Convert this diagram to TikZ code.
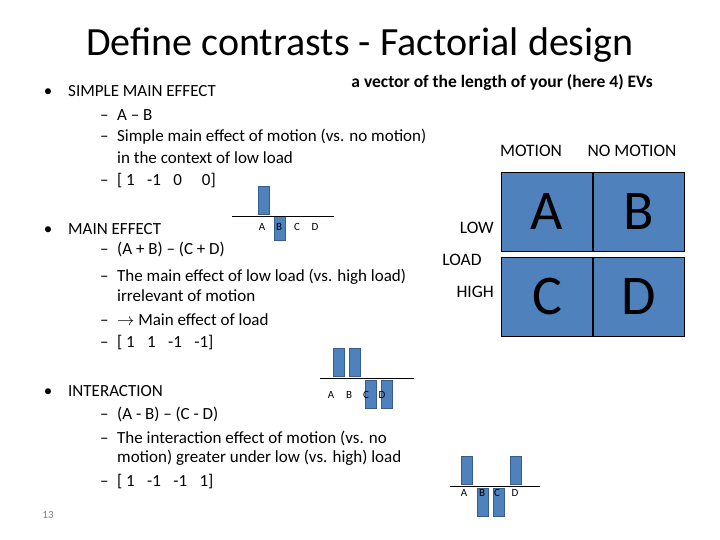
\documentclass[tikz,border=0pt]{standalone}
\usepackage{fontspec}
\setmainfont{Carlito}
\definecolor{bl}{HTML}{4F81BD}
\definecolor{bd}{HTML}{385D8A}
\begin{document}
\begin{tikzpicture}[x=1pt,y=-1pt,
  t/.style={anchor=west,inner sep=0pt,font=\fontsize{17}{20}\selectfont},
  bar/.style={fill=bl,draw=bd,line width=0.8pt},
  sl/.style={inner sep=0pt,font=\fontsize{11}{13}\selectfont},
  ax/.style={line width=0.8pt},
  cell/.style={fill=bl,draw=black,line width=0.6pt,minimum width=91pt,minimum height=79pt,inner sep=0pt,font=\fontsize{56}{60}\selectfont},
  gl/.style={inner sep=0pt,font=\fontsize{17.5}{20}\selectfont}]
\useasboundingbox (0,0) rectangle (720,540);
\node[inner sep=0pt,font=\fontsize{40}{46}\selectfont] (title) at (360,45) {Define contrasts - Factorial design};
\node[anchor=east,inner sep=0pt,font=\bfseries\fontsize{17.5}{20}\selectfont] (vec) at (653,82) {a vector of the length of your (here 4) EVs};
% bullets
\foreach \y/\n in {93/b1,231/b2,393/b3} \node[inner sep=0pt,font=\fontsize{17}{20}\selectfont] (\n) at (48,\y) {\textbullet};
\node[t] (s1) at (68,91) {SIMPLE MAIN EFFECT};
\node[t] (s2) at (100,115) {–\enspace A – B};
\node[t] (s3) at (100,137) {–\enspace Simple main effect of motion (vs. no motion)};
\node[t] (s4) at (100,158) {\phantom{–\enspace }in the context of low load};
\node[t] (s5) at (100,181) {–\enspace [ 1\enspace\ -1\enspace\ 0\enspace\ \ \ 0]};
\node[t] (m1) at (68,229) {MAIN EFFECT};
\node[t] (m2) at (100,249) {–\enspace (A + B) – (C + D)};
\node[t] (m3) at (100,277) {–\enspace The main effect of low load (vs. high load)};
\node[t] (m4) at (100,296) {\phantom{–\enspace }irrelevant of motion};
\node[t] (m5) at (100,320) {–\enspace $\rightarrow$ Main effect of load};
\node[t] (m6) at (100,343) {–\enspace [ 1\enspace\ 1\enspace\ -1\enspace\ -1]};
\node[t] (i1) at (68,391) {INTERACTION};
\node[t] (i2) at (100,414) {–\enspace (A - B) – (C - D)};
\node[t] (i3) at (100,438) {–\enspace The interaction effect of motion (vs. no};
\node[t] (i4) at (100,458) {\phantom{–\enspace }motion) greater under low (vs. high) load};
\node[t] (i5) at (100,482) {–\enspace [ 1\enspace\ -1\enspace\ -1\enspace\ 1]};
\node[inner sep=0pt,font=\fontsize{11}{13}\selectfont,text=gray] (pg) at (48,515) {13};
% chart 1
\draw[bar] (258,186) rectangle (269,214);
\draw[bar] (274,216) rectangle (285,240);
\draw[ax] (232,216) -- (334,216);
\foreach \x/\l in {262/A,279/B,297/C,315/D} \node[sl] (c1\l) at (\x,227) {\l};
% chart 2
\draw[bar] (333,348) rectangle (344,376);
\draw[bar] (349,348) rectangle (360,376);
\draw[bar] (365,380) rectangle (376,408);
\draw[bar] (381,380) rectangle (392,408);
\draw[ax] (320,378) -- (414,378);
\foreach \x/\l in {331/A,349/B,366/C,382/D} \node[sl] (c2\l) at (\x,395) {\l};
% chart 3
\draw[bar] (461,456) rectangle (472,484);
\draw[bar] (477,488) rectangle (488,516);
\draw[bar] (493,488) rectangle (504,516);
\draw[bar] (510,456) rectangle (521,484);
\draw[ax] (450,486) -- (540,486);
\foreach \x/\l in {464/A,482/B,497/C,515/D} \node[sl] (c3\l) at (\x,493) {\l};
% grid
\node[cell] (A) at (547,212) {A};
\node[cell] (B) at (639,212) {B};
\node[cell] (C) at (547,297) {C};
\node[cell] (D) at (639,297) {D};
\node[gl] (mo) at (531,151) {MOTION};
\node[gl] (nm) at (632,151) {NO MOTION};
\node[gl,anchor=east] (low) at (494,228) {LOW};
\node[gl] (load) at (462,260) {LOAD};
\node[gl,anchor=east] (high) at (494,292) {HIGH};
\end{tikzpicture}
\end{document}
